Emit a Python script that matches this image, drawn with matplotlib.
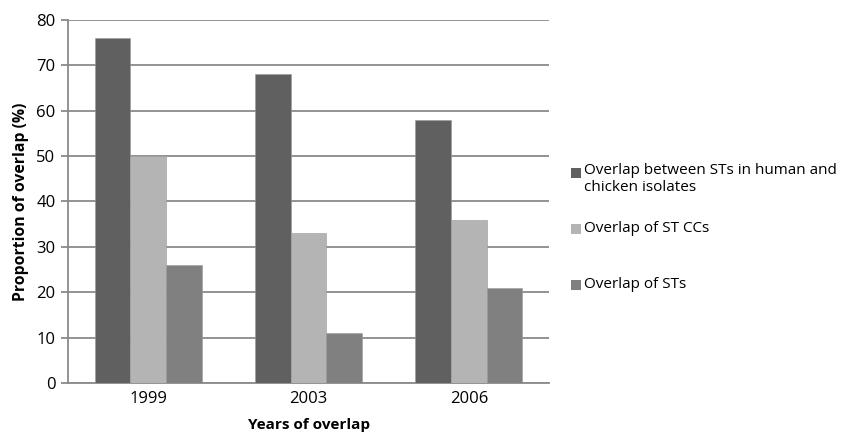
import matplotlib
matplotlib.use("Agg")
import matplotlib.pyplot as plt
from matplotlib.patches import Rectangle
import numpy as np

years = ["1999", "2003", "2006"]
series_names = [
    "Overlap between STs in human and\nchicken isolates",
    "Overlap of ST CCs",
    "Overlap of STs",
]
overlap_human_chicken = [76, 68, 58]
overlap_st_ccs = [50, 33, 36]
overlap_sts = [26, 11, 21]
yticks = [0, 10, 20, 30, 40, 50, 60, 70, 80]

colors = ["#606060", "#b4b4b4", "#808080"]
grid_color = "#8a8a8a"
font = "Open Sans"

fig = plt.figure(figsize=(8.44, 4.33), dpi=100)
ax = fig.add_axes([68 / 844, 50 / 433, (549 - 68) / 844, (383 - 20) / 433])

x = np.arange(len(years))
width = 0.223
series = [overlap_human_chicken, overlap_st_ccs, overlap_sts]
for i, (vals, col) in enumerate(zip(series, colors)):
    ax.bar(x + (i - 1) * width, vals, width, color=col, edgecolor="#9a9a9a",
           linewidth=0.4, zorder=3)

ax.set_xlim(-0.5, 2.5)
ax.set_ylim(0, 80)
ax.set_yticks(yticks)
ax.set_xticks(x)
ax.set_xticklabels(years, fontsize=12, family=font)
ax.set_yticklabels([str(t) for t in yticks], fontsize=12, family=font)
ax.yaxis.grid(True, color=grid_color, linewidth=1.3, zorder=0)
ax.set_axisbelow(True)

for s in ["top", "right"]:
    ax.spines[s].set_visible(False)
for s in ["left", "bottom"]:
    ax.spines[s].set_color(grid_color)
    ax.spines[s].set_linewidth(1.3)
ax.tick_params(axis="y", length=5, width=1.3, color=grid_color, pad=4)
ax.tick_params(axis="x", length=0, pad=6)

ax.set_ylabel("Proportion of overlap (%)", fontsize=11.3, fontweight="bold",
              family=font, labelpad=5)
ax.set_xlabel("Years of overlap", fontsize=11, fontweight="bold",
              family=font, labelpad=8)

# Legend drawn at the right of the plot
legend_y = [173, 229, 285]
for name, col, yy in zip(series_names, colors, legend_y):
    fig.patches.append(Rectangle((571 / 844, (433 - yy - 5) / 433), 10 / 844, 10 / 433,
                                 transform=fig.transFigure, facecolor=col,
                                 edgecolor="none"))
    multi = "\n" in name
    fig.text(584 / 844, (433 - yy + (10 if multi else 0)) / 433, name,
             fontsize=11, family=font, va="top" if multi else "center",
             ha="left", linespacing=1.15)

fig.savefig("out.png", dpi=100)
